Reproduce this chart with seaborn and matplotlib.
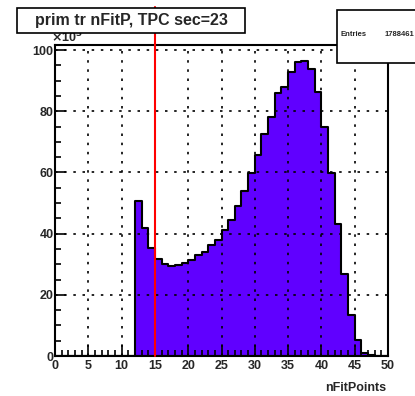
import matplotlib
matplotlib.use("Agg")
import matplotlib.pyplot as plt
import numpy as np
import pandas as pd
import seaborn as sns
from matplotlib.ticker import MultipleLocator

# Data (counts in units of 10^3), one bin per fit-point value
nfit_bins = list(range(12, 48))
counts_k = [50.5, 41.7, 35.2, 31.7, 30.1, 29.3, 29.8, 30.3, 31.4, 33.0,
            33.9, 36.4, 38.0, 41.2, 44.5, 48.9, 53.8, 59.8, 65.6, 72.7,
            78.1, 86.1, 88.0, 92.7, 96.2, 96.4, 93.7, 86.3, 74.9, 59.8,
            43.2, 26.8, 13.4, 5.1, 1.1, 0.2]
title_text = "prim tr nFitP, TPC sec=23"
entries = 1788461
cut_value = 15
x_label = "nFitPoints"

sns.set_style("white")
plt.rcParams['font.family'] = ['Liberation Sans', 'DejaVu Sans']
plt.rcParams['font.weight'] = 'bold'

fig = plt.figure(figsize=(4.15, 3.96), dpi=100)
ax = fig.add_axes([0.1325, 0.101, 0.8025, 0.785])

df = pd.DataFrame({"nfit": np.array(nfit_bins) + 0.5, "count": counts_k})
sns.histplot(data=df, x="nfit", weights="count", bins=list(range(0, 51)),
             element="step", fill=True, color="#6000ff", alpha=1,
             edgecolor="black", linewidth=1.5, ax=ax)

ax.set_xlim(0, 50)
ax.set_ylim(0, 101.6)
ax.xaxis.set_major_locator(MultipleLocator(5))
ax.xaxis.set_minor_locator(MultipleLocator(1))
ax.yaxis.set_major_locator(MultipleLocator(20))
ax.yaxis.set_minor_locator(MultipleLocator(5))
ax.tick_params(which="both", direction="in", bottom=True, left=True,
               top=False, right=False, width=1.2, labelsize=9,
               color="black")
ax.tick_params(which="major", length=8)
ax.tick_params(which="minor", length=4)
ax.tick_params(axis="x", pad=3)
ax.tick_params(axis="y", pad=1)
for lab in ax.get_xticklabels() + ax.get_yticklabels():
    lab.set_fontweight("bold")
ax.grid(True, which="major", color="black", linestyle=(0, (1.5, 4)),
        linewidth=1.2)
ax.set_axisbelow(False)
for sp in ax.spines.values():
    sp.set_color("black")
    sp.set_linewidth(1.5)
ax.set_ylabel("")
ax.set_xlabel(x_label, fontsize=9, fontweight="bold", ha="right")
ax.xaxis.set_label_coords(0.995, -0.085)

# cut line
ax.plot([cut_value, cut_value], [0, 114], color="red", linewidth=1.5,
        clip_on=False, zorder=5)

# x10^3 multiplier
ax.text(-0.012, 0.998, r"$\times$10$^{3}$", transform=ax.transAxes,
        fontsize=9, fontweight="bold", va="bottom", ha="left")

# title box
fig.patches.append(plt.Rectangle((0.041, 0.917), 0.549, 0.063,
                                 transform=fig.transFigure, facecolor="white",
                                 edgecolor="black", linewidth=1.2, zorder=10))
fig.text(0.316, 0.949, title_text, fontsize=11.5, fontweight="bold",
         ha="center", va="center", zorder=11)

# stats box
fig.patches.append(plt.Rectangle((0.812, 0.842), 0.195, 0.133,
                                 transform=fig.transFigure, facecolor="white",
                                 edgecolor="black", linewidth=1.2, zorder=10))
fig.text(0.82, 0.912, "Entries", fontsize=5.5, fontweight="bold",
         ha="left", va="center", zorder=11)
fig.text(0.998, 0.912, str(entries), fontsize=5.5, fontweight="bold",
         ha="right", va="center", zorder=11)

fig.savefig("out.png", dpi=100)
